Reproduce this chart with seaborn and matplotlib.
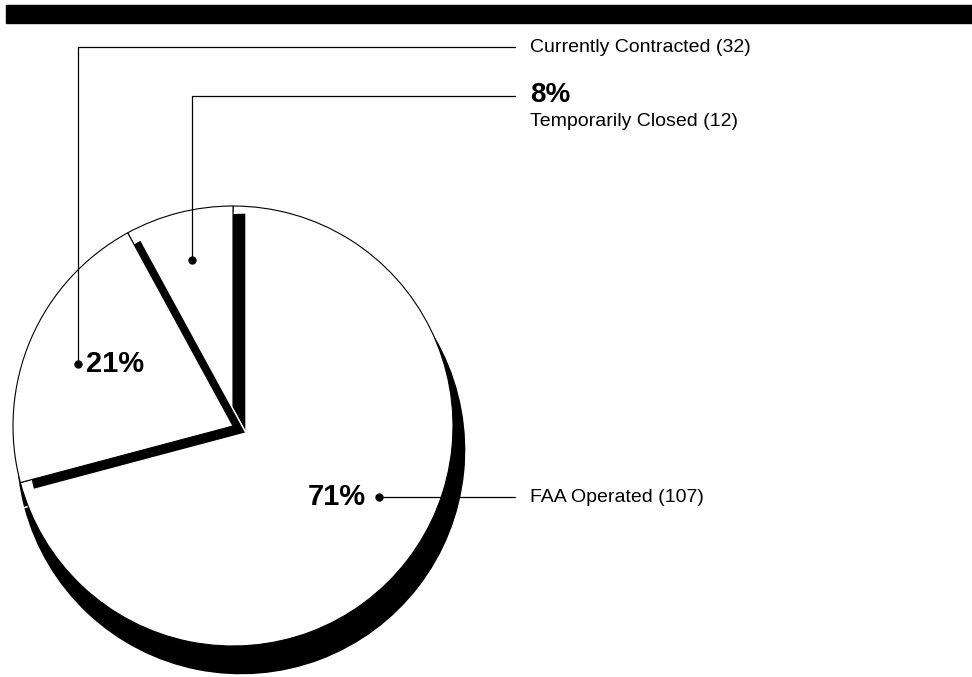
import matplotlib
matplotlib.use("Agg")
import matplotlib.pyplot as plt
import seaborn as sns
from matplotlib.patches import Rectangle

# Data
categories = ["Temporarily Closed", "Currently Contracted", "FAA Operated"]
counts = [12, 32, 107]
pct_labels = ["8%", "21%", "71%"]

sns.set_style("white")
plt.rcParams["font.family"] = ["Liberation Sans", "DejaVu Sans"]
plt.rcParams["text.color"] = "black"

fig = plt.figure(figsize=(9.72, 6.77), dpi=100)
ax = fig.add_axes([0, 0, 1, 1])

cx, cy, r = 233, 426, 220

# big drop shadow under the whole pie
big, _ = ax.pie(counts, colors=["black"] * 3, startangle=270, counterclock=False,
                center=(241, 450), radius=225)
# small shadows that show as black bands between slices
small, _ = ax.pie(counts, colors=["black"] * 3, startangle=270, counterclock=False,
                  center=(cx + 13, cy + 7), radius=r)
white, _ = ax.pie(counts, colors=["white"] * 3, startangle=270, counterclock=False,
                  center=(cx, cy), radius=r,
                  wedgeprops=dict(edgecolor="black", linewidth=0.8))

for w in big:
    w.set_zorder(1)
# draw order: FAA, then 8%, then 21%
small[2].set_visible(False)
white[2].set_zorder(2)
small[0].set_zorder(3)
white[0].set_zorder(4)
small[1].set_zorder(5)
white[1].set_zorder(6)

ax.set_xlim(0, 972)
ax.set_ylim(677, 0)
ax.set_aspect("equal")
ax.axis("off")

# black bar at top
ax.add_patch(Rectangle((6, 5), 966, 18, color="black", zorder=10))

lw = 0.9
txt = 14
big_txt = 21

# Currently Contracted leader
ax.plot([78, 78, 515], [364, 47, 47], color="black", lw=lw, zorder=8)
ax.plot([78], [364], "o", color="black", ms=5, zorder=9)
ax.text(86, 364, pct_labels[1], fontsize=big_txt, fontweight="bold", va="center", ha="left", zorder=9)
ax.text(530, 47, f"{categories[1]} ({counts[1]})", fontsize=txt, va="center", ha="left")

# Temporarily Closed leader
ax.plot([192, 192, 515], [260, 96, 96], color="black", lw=lw, zorder=8)
ax.plot([192], [260], "o", color="black", ms=5, zorder=9)
ax.text(530, 95, pct_labels[0], fontsize=big_txt - 1, fontweight="bold", va="center", ha="left")
ax.text(530, 121, f"{categories[0]} ({counts[0]})", fontsize=txt, va="center", ha="left")

# FAA Operated leader
ax.plot([379, 515], [497, 497], color="black", lw=lw, zorder=8)
ax.plot([379], [497], "o", color="black", ms=5, zorder=9)
ax.text(366, 497, pct_labels[2], fontsize=big_txt, fontweight="bold", va="center", ha="right", zorder=9)
ax.text(530, 497, f"{categories[2]} ({counts[2]})", fontsize=txt, va="center", ha="left")

fig.savefig("out.png", dpi=100, facecolor="white")
